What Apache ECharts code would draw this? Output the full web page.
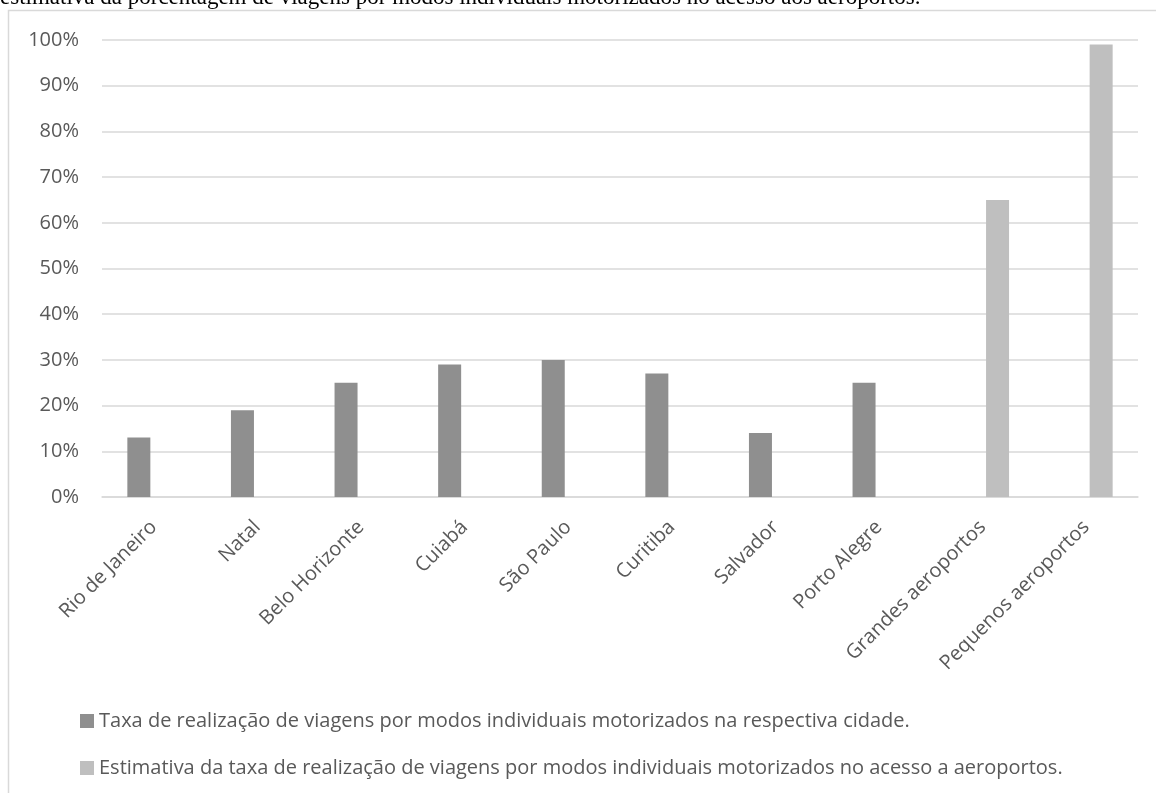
<!DOCTYPE html>
<html>
<head>
<meta charset="utf-8">
<script src="https://cdn.jsdelivr.net/npm/echarts@6/dist/echarts.min.js"></script>
<style>
  html, body { margin: 0; padding: 0; background: #ffffff; }
  #chart { width: 1156px; height: 793px; }
</style>
</head>
<body>
<div id="chart"></div>
<script>
// Categories along the x axis
const categories = [
  'Rio de Janeiro', 'Natal', 'Belo Horizonte', 'Cuiabá', 'São Paulo',
  'Curitiba', 'Salvador', 'Porto Alegre', 'Grandes aeroportos', 'Pequenos aeroportos'
];

// Series names (legend entries)
const cityName = 'Taxa de realização de viagens por modos individuais motorizados na respectiva cidade.';
const airportName = 'Estimativa da taxa de realização de viagens por modos individuais motorizados no acesso a aeroportos.';

// Values in percent; '-' means no bar for that category
const cityValues = [13, 19, 25, 29, 30, 27, 14, 25, '-', '-'];
const airportValues = ['-', '-', '-', '-', '-', '-', '-', '-', 65, 99];

// Y axis ticks
const yMin = 0;
const yMax = 100;
const yStep = 10;

const captionText = 'estimativa da porcentagem de viagens por modos individuais motorizados no acesso aos aeroportos.';

const FONT = '"Open Sans", "Noto Sans", sans-serif';
const TEXT_COLOR = '#595959';
const GRID_COLOR = '#d9d9d9';

const chart = echarts.init(document.getElementById('chart'), null, { renderer: 'canvas' });

chart.setOption({
  animation: false,
  backgroundColor: '#ffffff',
  textStyle: { fontFamily: FONT },
  graphic: [
    {
      // chart frame (continues past the right and bottom edges)
      type: 'rect',
      shape: { x: 8.5, y: 10.5, width: 1400, height: 1000 },
      style: { fill: 'none', stroke: GRID_COLOR, lineWidth: 1.5 },
      silent: true,
      z: 0
    },
    {
      // last line of the caption above the frame
      type: 'text',
      x: 0,
      y: 9,
      style: {
        text: captionText,
        font: '23px "Liberation Serif", "Times New Roman", serif',
        fill: '#000000',
        verticalAlign: 'bottom',
        align: 'left'
      },
      silent: true
    }
  ],
  grid: {
    left: 102,
    right: 18,
    top: 40,
    bottom: 296,
    containLabel: false
  },
  legend: {
    orient: 'vertical',
    left: 75,
    top: 706,
    itemWidth: 14,
    itemHeight: 14,
    itemGap: 27,
    icon: 'rect',
    textStyle: { fontFamily: FONT, fontSize: 20, color: TEXT_COLOR },
    data: [cityName, airportName]
  },
  xAxis: {
    type: 'category',
    data: categories,
    axisLine: { show: true, lineStyle: { color: GRID_COLOR, width: 1.5 } },
    axisTick: { show: false },
    axisLabel: {
      rotate: 45,
      interval: 0,
      margin: 27,
      fontFamily: FONT,
      fontSize: 20,
      color: TEXT_COLOR
    }
  },
  yAxis: {
    type: 'value',
    min: yMin,
    max: yMax,
    interval: yStep,
    axisLine: { show: false },
    axisTick: { show: false },
    splitLine: { lineStyle: { color: GRID_COLOR, width: 1.5 } },
    axisLabel: {
      formatter: '{value}%',
      margin: 23,
      fontFamily: FONT,
      fontSize: 20,
      color: TEXT_COLOR
    }
  },
  series: [
    {
      name: cityName,
      type: 'bar',
      data: cityValues,
      barWidth: 23,
      barGap: '30%',
      itemStyle: { color: '#8f8f8f' }
    },
    {
      name: airportName,
      type: 'bar',
      data: airportValues,
      barWidth: 23,
      barGap: '30%',
      itemStyle: { color: '#bfbfbf' }
    }
  ]
});
</script>
</body>
</html>
